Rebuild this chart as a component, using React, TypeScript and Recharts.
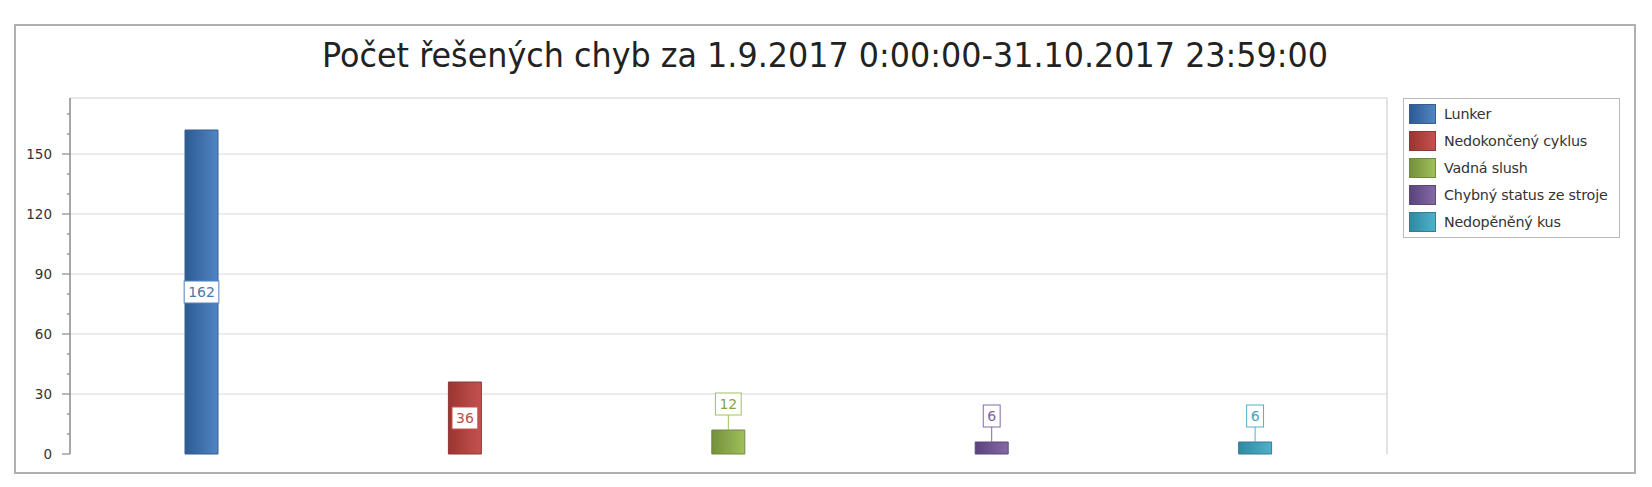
import React from 'react';
import { BarChart, Bar, XAxis, YAxis, CartesianGrid, Cell, LabelList, ReferenceLine } from 'recharts';

const title = 'Počet řešených chyb za 1.9.2017 0:00:00-31.10.2017 23:59:00';
const categories = ['Lunker', 'Nedokončený cyklus', 'Vadná slush', 'Chybný status ze stroje', 'Nedopěněný kus'];
const values = [162, 36, 12, 6, 6];
const yTicks = [0, 10, 20, 30, 40, 50, 60, 70, 80, 90, 100, 110, 120, 130, 140, 150, 160, 170];
const yLabelTicks = [0, 30, 60, 90, 120, 150];
const yMax = 178;

const colorsLight = ['#5185c3', '#c4524f', '#9fc05c', '#8468a7', '#4fb0ca'];
const colorsDark = ['#2c5a93', '#9c3431', '#748f3a', '#5a447c', '#2f8aa3'];
const borders = ['#385d8a', '#8c3836', '#71893f', '#5c4776', '#357d91'];
const textColors = ['#4a76b0', '#b8504c', '#86a34a', '#7a5f9c', '#47a3bc'];

const data = categories.map((name, i) => ({ name, value: values[i] }));

const FONT = '"DejaVu Sans", Verdana, sans-serif';

const YTick = (props: any) => {
  const { x, y, payload } = props;
  const v = payload.value;
  const major = yLabelTicks.includes(v);
  return (
    <g>
      <line x1={x - (major ? 8 : 3)} x2={x} y1={y} y2={y} stroke="#8a8a8a" strokeWidth={1.2} />
      {major && (
        <text x={x - 18} y={y} dy="0.36em" textAnchor="end" fontSize={13.5} fill="#333" fontFamily={FONT}>
          {v}
        </text>
      )}
    </g>
  );
};

const renderLabel = (props: any) => {
  const { x, y, width, height, value, index } = props;
  const txt = String(value);
  const bw = txt.length * 8.9 + 8;
  const bh = 22;
  const cx = x + width / 2;
  const color = colorsLight[index];
  if (height > 40) {
    const cy = y + height / 2;
    return (
      <g>
        <rect x={cx - bw / 2} y={cy - bh / 2} width={bw} height={bh} fill="#fff" stroke={color} strokeWidth={1} />
        <text x={cx} y={cy} dy="0.36em" textAnchor="middle" fontSize={14} fill={textColors[index]} fontFamily={FONT}>
          {txt}
        </text>
      </g>
    );
  }
  const by = y - 15 - bh;
  return (
    <g>
      <line x1={cx} x2={cx} y1={y} y2={y - 15} stroke={color} strokeWidth={1} />
      <rect x={cx - bw / 2} y={by} width={bw} height={bh} fill="#fff" stroke={color} strokeWidth={1} />
      <text x={cx} y={by + bh / 2} dy="0.36em" textAnchor="middle" fontSize={14} fill={textColors[index]} fontFamily={FONT}>
        {txt}
      </text>
    </g>
  );
};

export default function App() {
  return (
    <div style={{ position: 'absolute', left: 0, top: 0, width: 1652, height: 487, background: '#fff', fontFamily: FONT }}>
      <div
        style={{
          position: 'absolute',
          left: 14,
          top: 24,
          width: 1622,
          height: 450,
          border: '2px solid #b0b0b0',
          boxSizing: 'border-box',
        }}
      />
      <svg style={{ position: 'absolute', left: 0, top: 0 }} width={1652} height={90}>
        <text x={322} y={67} fontSize={33} fill="#222" fontFamily={FONT} textLength={1006} lengthAdjust="spacingAndGlyphs">
          {title}
        </text>
      </svg>
      <div style={{ position: 'absolute', left: 0, top: 0 }}>
        <BarChart width={1652} height={487} data={data} margin={{ top: 98, right: 265, bottom: 33, left: 10 }}>
          <defs>
            {categories.map((c, i) => (
              <linearGradient key={c} id={`grad${i}`} x1="0" y1="0" x2="1" y2="0">
                <stop offset="0%" stopColor={colorsDark[i]} />
                <stop offset="100%" stopColor={colorsLight[i]} />
              </linearGradient>
            ))}
          </defs>
          <CartesianGrid vertical={false} horizontalValues={[30, 60, 90, 120, 150]} stroke="#dadada" strokeWidth={1.2} />
          <XAxis dataKey="name" tick={false} tickLine={false} height={0} axisLine={{ stroke: '#9a9a9a', strokeWidth: 1.5 }} />
          <YAxis
            width={60}
            domain={[0, yMax]}
            ticks={yTicks}
            interval={0}
            tickSize={0}
            tickMargin={0}
            tickLine={false}
            tick={<YTick />}
            axisLine={{ stroke: '#8a8a8a', strokeWidth: 1.5 }}
          />
          <ReferenceLine y={yMax} stroke="#cfcfcf" strokeWidth={1.2} ifOverflow="extendDomain" />
          <ReferenceLine x={categories[categories.length - 1]} stroke="#cfcfcf" strokeWidth={1.2} position="end" />
          <Bar dataKey="value" barSize={33} isAnimationActive={false}>
            {data.map((d, i) => (
              <Cell key={d.name} fill={`url(#grad${i})`} stroke={borders[i]} strokeWidth={1} />
            ))}
            <LabelList dataKey="value" content={renderLabel} />
          </Bar>
        </BarChart>
      </div>
      <div
        style={{
          position: 'absolute',
          left: 1403,
          top: 98,
          width: 217,
          height: 140,
          border: '1px solid #b8b8b8',
          boxSizing: 'border-box',
          background: '#fff',
        }}
      >
        {categories.map((c, i) => (
          <div key={c} style={{ position: 'absolute', left: 5, top: 5 + i * 27, height: 20, display: 'flex', alignItems: 'center' }}>
            <div
              style={{
                width: 25,
                height: 18,
                border: `1px solid ${borders[i]}`,
                background: `linear-gradient(to right, ${colorsDark[i]}, ${colorsLight[i]})`,
              }}
            />
            <span style={{ marginLeft: 8, fontSize: 14.3, color: '#333', whiteSpace: 'nowrap', fontFamily: FONT, letterSpacing: -0.2 }}>{c}</span>
          </div>
        ))}
      </div>
    </div>
  );
}
